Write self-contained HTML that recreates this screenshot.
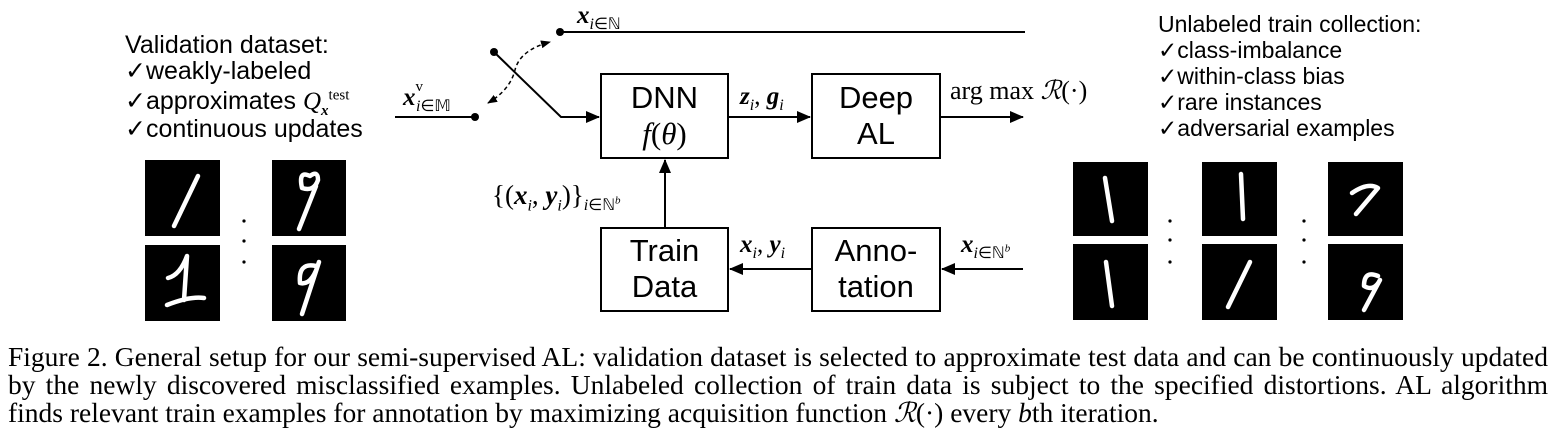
<!DOCTYPE html>
<html><head><meta charset="utf-8"><style>
body{margin:0;width:1552px;height:444px;background:#fff;position:relative;overflow:hidden;font-family:"Liberation Sans",sans-serif}
.t{position:absolute;white-space:nowrap;color:#000}
.l{position:absolute;white-space:nowrap;line-height:1}
.m{font-family:"Liberation Serif",serif}
.cap{position:absolute;left:8px;width:1540px;font-family:"Liberation Serif",serif;font-size:27.5px;white-space:nowrap;line-height:1}
.j{text-align:justify;text-align-last:justify;white-space:normal}
sub,sup{line-height:0}
</style></head><body>
<svg width="1552" height="444" style="position:absolute;left:0;top:0">
<defs><marker id="a" markerWidth="14" markerHeight="12" refX="13" refY="6" orient="auto" markerUnits="userSpaceOnUse"><path d="M0,0L14,6L0,12z"/></marker>
<marker id="b" markerWidth="10" markerHeight="8" refX="9" refY="4" orient="auto" markerUnits="userSpaceOnUse"><path d="M0,0L10,4L0,8z"/></marker>
<marker id="bs" markerWidth="10" markerHeight="8" refX="1" refY="4" orient="auto" markerUnits="userSpaceOnUse"><path d="M10,0L0,4L10,8z"/></marker></defs>
<g stroke="#000" stroke-width="2" fill="none">
<rect x="601" y="74" width="127" height="84"/><rect x="812" y="74" width="128" height="84"/>
<rect x="601" y="228" width="127" height="83"/><rect x="812" y="228" width="128" height="83"/>
<line x1="395" y1="117" x2="475" y2="117"/>
<polyline points="494,52 561,117 599,117" marker-end="url(#a)"/>
<line x1="560" y1="32" x2="1025" y2="32"/>
<line x1="728" y1="117" x2="810" y2="117" marker-end="url(#a)"/>
<line x1="940" y1="117" x2="1023" y2="117" marker-end="url(#a)"/>
<line x1="665" y1="228" x2="665" y2="160" marker-end="url(#a)"/>
<line x1="1023" y1="269" x2="942" y2="269" marker-end="url(#a)"/>
<line x1="812" y1="269" x2="730" y2="269" marker-end="url(#a)"/>
<path d="M488,103 Q510,90 515,70 Q520,50 550,42" stroke-width="1.5" stroke-dasharray="4,3" marker-start="url(#bs)" marker-end="url(#b)"/>
</g>
<circle cx="475" cy="117" r="4"/><circle cx="494" cy="52" r="4"/><circle cx="560" cy="32" r="4"/>
<g fill="#000">
<rect x="145" y="160" width="75" height="76"/><rect x="145" y="245" width="75" height="76"/>
<rect x="272" y="160" width="74" height="76"/><rect x="272" y="245" width="74" height="76"/>
<rect x="1073" y="162" width="75" height="74"/><rect x="1073" y="244" width="75" height="76"/>
<rect x="1202" y="162" width="75" height="74"/><rect x="1202" y="244" width="75" height="76"/>
<rect x="1328" y="162" width="75" height="74"/><rect x="1328" y="244" width="75" height="76"/>
<circle cx="244" cy="221" r="1.6"/><circle cx="244" cy="241" r="1.6"/><circle cx="244" cy="262" r="1.6"/>
<circle cx="1170" cy="221" r="1.6"/><circle cx="1170" cy="240" r="1.6"/><circle cx="1170" cy="262" r="1.6"/>
<circle cx="1304" cy="221" r="1.6"/><circle cx="1304" cy="240" r="1.6"/><circle cx="1304" cy="262" r="1.6"/>
</g>
<g stroke="#fff" fill="none" stroke-width="4.5" stroke-linecap="round" stroke-linejoin="round">
<path d="M198,176 L174,226"/>
<path d="M168,278 Q180,275 187,256 L184,300 M167,305 Q190,296 204,298"/>
<path d="M310,176 Q298,170 302,188 Q314,192 318,180 Q318,170 310,176 M316,186 L299,229"/>
<path d="M316,266 Q298,262 300,283 Q312,286 319,262 L302,314"/>
<path d="M1105,178 L1112,221"/><path d="M1106,262 L1112,306"/>
<path d="M1241,174 L1243,219"/><path d="M1250,262 L1228,307"/>
<path d="M1352,193 Q1368,182 1378,188 L1356,214"/>
<path d="M1378,276 Q1364,270 1364,286 Q1374,292 1380,280 L1364,310"/>
</g>
</svg>
<div style="font-size:25px">
<div class="l" style="left:125px;top:33px">Validation dataset:</div>
<div class="l" style="left:125px;top:59px">✓weakly-labeled</div>
<div class="l" style="left:125px;top:89px">✓approximates <span class="m"><i>Q</i><sub style="font-size:15px"><b><i>x</i></b></sub><sup style="font-size:15px">test</sup></span></div>
<div class="l" style="left:125px;top:117px">✓continuous updates</div>
</div>
<div style="font-size:23px">
<div class="l" style="left:1158px;top:13px">Unlabeled train collection:</div>
<div class="l" style="left:1158px;top:39px">✓class-imbalance</div>
<div class="l" style="left:1158px;top:65px">✓within-class bias</div>
<div class="l" style="left:1158px;top:91px">✓rare instances</div>
<div class="l" style="left:1158px;top:117px">✓adversarial examples</div>
</div>
<div class="t" style="left:601px;top:80px;width:127px;text-align:center;font-size:31px;line-height:36px">DNN<br><span class="m" style="font-style:italic">f</span><span class="m">(<i>θ</i>)</span></div>
<div class="t" style="left:812px;top:80px;width:128px;text-align:center;font-size:31px;line-height:36px">Deep<br>AL</div>
<div class="t" style="left:601px;top:233px;width:127px;text-align:center;font-size:31px;line-height:36px">Train<br>Data</div>
<div class="t" style="left:812px;top:233px;width:128px;text-align:center;font-size:31px;line-height:36px">Anno-<br>tation</div>
<div class="t m" style="left:577px;top:2px;font-size:25px"><b><i>x</i></b><sub style="font-size:16px"><i>i</i>∈ℕ</sub></div>
<div class="t m" style="left:403px;top:84px;font-size:25px"><b><i>x</i></b><span style="font-size:15px;position:relative;top:-14px">v</span><sub style="font-size:16px;margin-left:-7px"><i>i</i>∈𝕄</sub></div>
<div class="t m" style="left:740px;top:83px;font-size:25px"><b><i>z</i></b><sub style="font-size:16px"><i>i</i></sub>, <b><i>g</i></b><sub style="font-size:16px"><i>i</i></sub></div>
<div class="t m" style="left:950px;top:76px;font-size:26px">arg max <i>ℛ</i>(·)</div>
<div class="t m" style="left:492px;top:180px;font-size:27px">{(<b><i>x</i></b><sub style="font-size:16px"><i>i</i></sub>, <b><i>y</i></b><sub style="font-size:16px"><i>i</i></sub>)}<sub style="font-size:16px"><i>i</i>∈ℕ<sup style="font-size:11px"><i>b</i></sup></sub></div>
<div class="t m" style="left:740px;top:231px;font-size:25px"><b><i>x</i></b><sub style="font-size:16px"><i>i</i></sub>, <b><i>y</i></b><sub style="font-size:16px"><i>i</i></sub></div>
<div class="t m" style="left:961px;top:231px;font-size:25px"><b><i>x</i></b><sub style="font-size:16px"><i>i</i>∈ℕ<sup style="font-size:11px"><i>b</i></sup></sub></div>
<div class="cap j" style="top:343px">Figure 2. General setup for our semi-supervised AL: validation dataset is selected to approximate test data and can be continuously updated</div>
<div class="cap j" style="top:371px">by the newly discovered misclassified examples. Unlabeled collection of train data is subject to the specified distortions. AL algorithm</div>
<div class="cap" style="top:399px">finds relevant train examples for annotation by maximizing acquisition function <i>ℛ</i>(·) every <i>b</i>th iteration.</div>
</body></html>
